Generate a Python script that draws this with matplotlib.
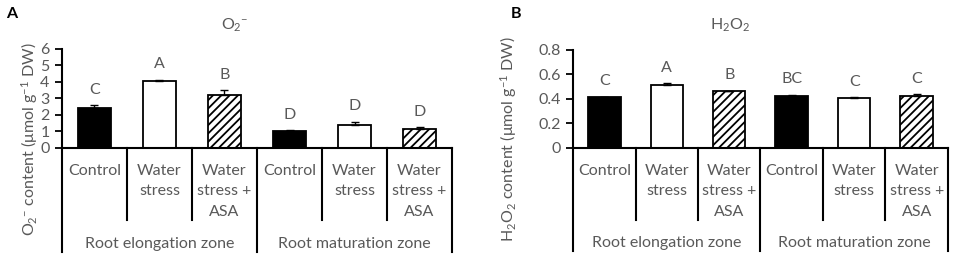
import numpy as np
import matplotlib
matplotlib.use('Agg')
import matplotlib.pyplot as plt

plt.rcParams['font.family'] = ['Lato', 'DejaVu Sans']
plt.rcParams['mathtext.fontset'] = 'custom'
plt.rcParams['mathtext.rm'] = 'Lato'
plt.rcParams['mathtext.it'] = 'Lato:italic'
plt.rcParams['hatch.linewidth'] = 1.3

GRAY = '#595959'

treatments = ['Control', 'Water\nstress', 'Water\nstress +\nASA']
zones = ['Root elongation zone', 'Root maturation zone']

o2_vals = [2.4, 4.05, 3.2, 1.05, 1.4, 1.15]
o2_err = [0.2, 0.1, 0.3, 0.05, 0.2, 0.1]
o2_letters = ['C', 'A', 'B', 'D', 'D', 'D']

h2o2_vals = [0.415, 0.513, 0.463, 0.428, 0.405, 0.428]
h2o2_err = [0.005, 0.015, 0.004, 0.006, 0.012, 0.012]
h2o2_letters = ['C', 'A', 'B', 'BC', 'C', 'C']

fills = ['black', 'white', 'white'] * 2
hatches = ['', '', '////'] * 2


def panel(ax, vals, err, letters, ymax, ystep, fmt):
    x = np.arange(len(vals))
    ax.bar(x, vals, width=0.52, color=fills, edgecolor='black', linewidth=1.3,
           hatch=hatches, zorder=2)
    ax.errorbar(x, vals, yerr=[np.zeros(len(err)), err], fmt='none',
                ecolor='black', elinewidth=1, capsize=3, capthick=1, zorder=3)
    for xi, v, e, l in zip(x, vals, err, letters):
        ax.annotate(l, (xi, v + e), xytext=(0, 6), textcoords='offset points',
                    ha='center', va='bottom', fontsize=11.5, color=GRAY)
    ax.set_xlim(-0.5, len(vals) - 0.5)
    ax.set_ylim(0, ymax)
    ticks = np.arange(0, ymax + ystep / 2, ystep)
    ax.set_yticks(ticks)
    ax.set_yticklabels([fmt(t) for t in ticks])
    ax.tick_params(axis='y', length=5, width=1.3, colors='black', labelcolor=GRAY,
                   labelsize=11.5, pad=4)
    ax.set_xticks([])
    for s in ['top', 'right']:
        ax.spines[s].set_visible(False)
    for s in ['left', 'bottom']:
        ax.spines[s].set_linewidth(1.5)
    tr = ax.get_xaxis_transform()
    # category table under the axis
    for i in range(len(vals) + 1):
        xd = i - 0.5
        bottom = -1.05 if i % 3 == 0 else -0.73
        ax.plot([xd, xd], [0, bottom], color='black', lw=1.5, transform=tr,
                clip_on=False)
    for i in range(len(vals)):
        ax.text(i, -0.16, treatments[i % 3], transform=tr, ha='center', va='top',
                fontsize=11.5, color=GRAY, linespacing=1.6)
    for g, z in enumerate(zones):
        ax.text(g * 3 + 1, -0.97, z, transform=tr, ha='center', va='center',
                fontsize=11.5, color=GRAY)


fig = plt.figure(figsize=(9.64, 2.63), dpi=100)
axA = fig.add_axes([0.0643, 0.4373, 0.4046, 0.3764])
axB = fig.add_axes([0.5944, 0.4373, 0.3890, 0.3726])

panel(axA, o2_vals, o2_err, o2_letters, 6, 1, lambda t: f'{t:.0f}')
panel(axB, h2o2_vals, h2o2_err, h2o2_letters, 0.8, 0.2,
      lambda t: '0' if t == 0 else f'{t:.1f}')

fig.text(0.244, 0.905, r'O$_2{}^{-}$', ha='center', va='center', fontsize=11.5, color=GRAY)
fig.text(0.757, 0.905, r'H$_2$O$_2$', ha='center', va='center', fontsize=11.5, color=GRAY)
fig.text(0.031, 0.47, r'O$_2{}^{-}$ content (μmol g$^{-1}$ DW)', rotation=90,
         ha='center', va='center', fontsize=11.5, color=GRAY)
fig.text(0.528, 0.47, r'H$_2$O$_2$ content (μmol g$^{-1}$ DW)', rotation=90,
         ha='center', va='center', fontsize=11.5, color=GRAY)
fig.text(0.006, 0.945, 'A', ha='left', va='center', fontsize=11.5, fontweight='bold')
fig.text(0.530, 0.945, 'B', ha='left', va='center', fontsize=11.5, fontweight='bold')

fig.savefig('out.png', dpi=100, facecolor='white')
